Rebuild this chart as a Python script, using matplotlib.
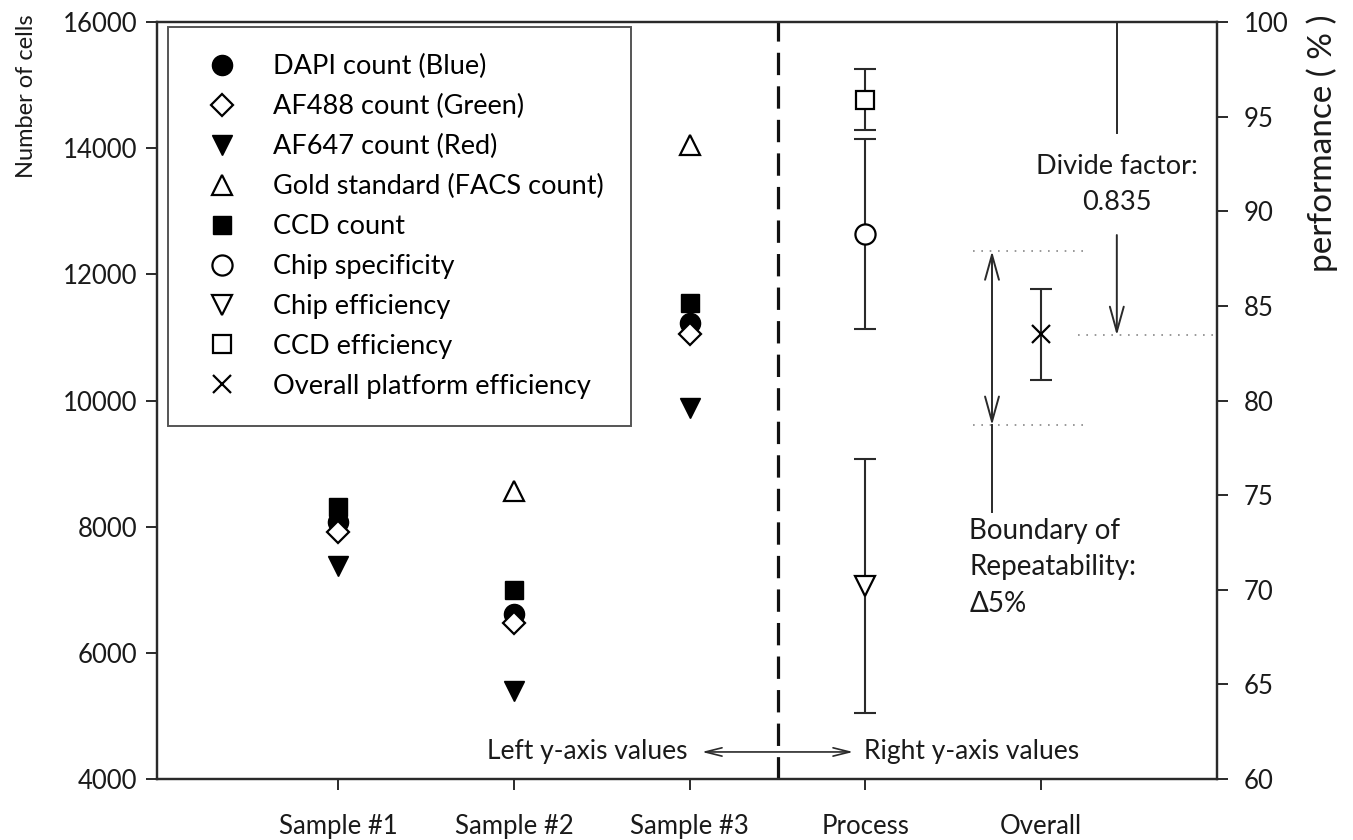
import numpy as np
import matplotlib
matplotlib.use("Agg")
import matplotlib.pyplot as plt
from matplotlib.lines import Line2D

# left axis data (number of cells) for three samples
samples = ["Sample #1", "Sample #2", "Sample #3"]
dapi = [8080, 6620, 11230]
af488 = [7920, 6480, 11060]
af647 = [7370, 5390, 9890]
gold = [None, 8560, 14050]
ccd_count = [8310, 7000, 11550]

# right axis data (performance %)
process_labels = ["Process", "Overall"]
chip_spec, chip_spec_err = 88.8, 5.0
chip_eff, chip_eff_err = 70.2, 6.7
ccd_eff, ccd_eff_err = 95.9, 1.6
overall_eff, overall_err = 83.5, 2.4

divide_factor = 0.835
bound_hi, bound_lo = 87.9, 78.7

TXT = "Lato"
INK = "#1a1a1a"
LINE = "#2a2a2a"

fig = plt.figure(figsize=(13.53, 8.4), dpi=100)
ax = fig.add_axes([0.116, 0.0726, 0.7835, 0.901])
ax2 = ax.twinx()

xs = np.array([1, 2, 3])
mew = 1.6
h_dapi, = ax.plot(xs, dapi, "o", ms=14.5, color="k", label="DAPI count (Blue)")
h_ccdc, = ax.plot(xs, ccd_count, "s", ms=12.5, color="k", label="CCD count")
h_488, = ax.plot(xs, af488, "D", ms=11.5, mfc="white", mec="k", mew=mew, label="AF488 count (Green)")
h_647, = ax.plot(xs, af647, "v", ms=14.5, color="k", label="AF647 count (Red)")
gx = [x for x, g in zip(xs, gold) if g is not None]
gy = [g for g in gold if g is not None]
h_gold, = ax.plot(gx, gy, "^", ms=14.5, mfc="white", mec="k", mew=mew, label="Gold standard (FACS count)")

# right axis points with error bars
eb = dict(fmt="none", ecolor=LINE, elinewidth=1.5, capsize=8, capthick=1.5)
ax2.errorbar([4], [chip_spec], yerr=[chip_spec_err], **eb)
ax2.errorbar([4], [chip_eff], yerr=[chip_eff_err], **eb)
ax2.errorbar([4], [ccd_eff], yerr=[ccd_eff_err], **eb)
ax2.errorbar([5], [overall_eff], yerr=[overall_err], **eb)
h_spec, = ax2.plot([4], [chip_spec], "o", ms=14.5, mfc="white", mec="k", mew=mew, label="Chip specificity")
h_eff, = ax2.plot([4], [chip_eff], "v", ms=14.5, mfc="white", mec="k", mew=mew, label="Chip efficiency")
h_ccde, = ax2.plot([4], [ccd_eff], "s", ms=12.5, mfc="white", mec="k", mew=mew, label="CCD efficiency")
h_over, = ax2.plot([5], [overall_eff], "x", ms=12.5, color="k", mew=mew, label="Overall platform efficiency")

# axes setup
ax.set_xlim(-0.03, 6)
ax.set_ylim(4000, 16000)
ax2.set_ylim(60, 100)
ax.set_xticks([1, 2, 3, 4, 5])
ax.set_xticklabels(samples + process_labels, fontfamily=TXT, fontsize=19)
ax.set_yticks(np.arange(4000, 16001, 2000))
ax2.set_yticks(np.arange(60, 101, 5))
for a in (ax, ax2):
    a.tick_params(direction="out", length=8, width=1.4, color=LINE, labelcolor=INK, labelsize=18.5)
    for lab in a.get_yticklabels():
        lab.set_fontfamily(TXT)
    for s in a.spines.values():
        s.set_linewidth(1.6)
        s.set_color(LINE)
ax.tick_params(axis="x", pad=17)
ax.tick_params(axis="y", pad=6)
ax2.tick_params(axis="y", pad=11)

# axis titles sit at the top of each side
fig.text(27 / 1353, 1 - 14 / 840, "Number of cells", rotation=90, ha="center", va="top",
         fontfamily=TXT, fontsize=17, color=INK)
fig.text(1322 / 1353, 1 - 14 / 840, "performance ( % )", rotation=90, ha="center", va="top",
         fontfamily=TXT, fontsize=24, color=INK)

# divider between left and right axis values
ax.axvline(3.5, color="#111111", lw=2.3, ls=(0, (7, 3.5)))

# repeatability boundaries
dot = dict(color="#888888", lw=1.2, ls=(0, (1, 4)))
ax2.plot([4.61, 5.24], [bound_hi, bound_hi], **dot)
ax2.plot([4.61, 5.24], [bound_lo, bound_lo], **dot)
ax2.plot([5.21, 6], [overall_eff - 0.05, overall_eff - 0.05], **dot)

arr = dict(arrowstyle="<->,head_length=0.9,head_width=0.25", color=LINE, lw=1.4,
           mutation_scale=20, shrinkA=0, shrinkB=0)
ax2.annotate("", xy=(4.72, bound_hi), xytext=(4.72, bound_lo), arrowprops=arr)
ax2.plot([4.72, 4.72], [bound_lo, 74.1], color=LINE, lw=1.4)
ax2.text(4.59, 73.8, "Boundary of\nRepeatability:\n\u03945%", fontfamily=TXT, fontsize=20,
         color=INK, va="top", ha="left", linespacing=1.5)

# divide factor
ax2.plot([5.43, 5.43], [100, 94.14], color=LINE, lw=1.4)
ax2.text(5.43, 91.4, "Divide factor:\n%.3f" % divide_factor, fontfamily=TXT, fontsize=19.5,
         color=INK, ha="center", va="center", linespacing=1.55)
ax2.annotate("", xy=(5.43, overall_eff - 0.05), xytext=(5.43, 88.75),
             arrowprops=dict(arrowstyle="->,head_length=0.9,head_width=0.25", color=LINE,
                             lw=1.4, mutation_scale=20, shrinkA=0, shrinkB=0))

# left / right axis hint
ax2.text(2.99, 61.43, "Left y-axis values", fontfamily=TXT, fontsize=19, color=INK,
         ha="right", va="center")
ax2.text(3.99, 61.43, "Right y-axis values", fontfamily=TXT, fontsize=19, color=INK,
         ha="left", va="center")
ax2.annotate("", xy=(3.93, 61.43), xytext=(3.07, 61.43),
             arrowprops=dict(arrowstyle="<->,head_length=0.8,head_width=0.2", color=LINE,
                             lw=1.2, mutation_scale=15, shrinkA=0, shrinkB=0))

handles = [h_dapi, h_488, h_647, h_gold, h_ccdc, h_spec, h_eff, h_ccde, h_over]
leg_handles = [Line2D([], [], ls="none", marker=h.get_marker(), ms=h.get_markersize(),
                      mfc=h.get_markerfacecolor(), mec=h.get_markeredgecolor(),
                      mew=h.get_markeredgewidth()) for h in handles]
leg = ax2.legend(leg_handles, [h.get_label() for h in handles], loc="upper left",
                 bbox_to_anchor=(0.0104, 0.9934), borderaxespad=0, fancybox=False,
                 prop={"family": TXT, "size": 19.5}, labelspacing=0.55, handletextpad=0.89,
                 borderpad=1.0, handlelength=2.0, framealpha=1)
leg.get_frame().set_edgecolor("#555555")
leg.get_frame().set_linewidth(1.4)

fig.savefig("out.png", dpi=100)
